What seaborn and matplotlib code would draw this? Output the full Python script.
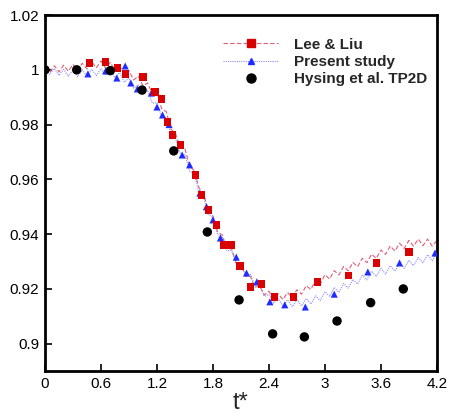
import numpy as np
import pandas as pd
import matplotlib
matplotlib.use("Agg")
import matplotlib.pyplot as plt
from matplotlib.lines import Line2D
import seaborn as sns

# ---- data ----
# Lee & Liu line: oscillating curve, peaks at t = 0.0..4.2 (step 0.1), troughs at t = 0.05..4.15
lee_peak_t = [round(0.1 * i, 2) for i in range(43)]
lee_peak_y = [1.0005, 1.0015, 1.0017, 1.0020, 1.0024, 1.0030, 1.0032, 1.0027, 1.0015, 0.9997,
              0.9977, 0.9952, 0.9917, 0.9847, 0.9767, 0.9712, 0.9632, 0.9547, 0.9467, 0.9397,
              0.9347, 0.9292, 0.9247, 0.9212, 0.9192, 0.9182, 0.9187, 0.9197, 0.9212, 0.9232,
              0.9252, 0.9267, 0.9282, 0.9297, 0.9312, 0.9327, 0.9342, 0.9357, 0.9367, 0.9377,
              0.9382, 0.9382, 0.9377]
lee_trough_t = [round(0.05 + 0.1 * i, 2) for i in range(42)]
lee_trough_y = [0.9990, 0.9992, 0.9995, 0.9998, 1.0003, 1.0007, 1.0006, 0.9997, 0.9982, 0.9963,
                0.9941, 0.9911, 0.9858, 0.9783, 0.9716, 0.9648, 0.9570, 0.9488, 0.9408, 0.9346,
                0.9293, 0.9246, 0.9206, 0.9178, 0.9163, 0.9161, 0.9168, 0.9181, 0.9198, 0.9218,
                0.9236, 0.9251, 0.9266, 0.9281, 0.9296, 0.9311, 0.9326, 0.9338, 0.9348, 0.9356,
                0.9358, 0.9356]
lee_mark_t = [0.48, 0.65, 0.78, 0.86, 1.05, 1.18, 1.25, 1.31, 1.37, 1.45, 1.61, 1.68, 1.75,
              1.84, 1.92, 2.00, 2.09, 2.20, 2.32, 2.46, 2.66, 2.92, 3.25, 3.55, 3.90]
lee_mark_y = [1.0025, 1.0028, 1.0006, 0.9985, 0.9974, 0.9919, 0.9893, 0.9810, 0.9762, 0.9725,
              0.9616, 0.9543, 0.9488, 0.9434, 0.9360, 0.9360, 0.9284, 0.9207, 0.9218, 0.9170,
              0.9170, 0.9225, 0.9250, 0.9295, 0.9335]

# Present study line
pre_peak_t = [round(0.1 * i, 2) for i in range(43)]
pre_peak_y = [1.0005, 1.0005, 1.0002, 1.0000, 1.0000, 1.0002, 1.0005, 1.0002, 0.9990, 0.9970,
              0.9945, 0.9925, 0.9880, 0.9825, 0.9750, 0.9690, 0.9620, 0.9535, 0.9460, 0.9390,
              0.9340, 0.9295, 0.9255, 0.9215, 0.9180, 0.9165, 0.9160, 0.9160, 0.9165, 0.9175,
              0.9190, 0.9205, 0.9220, 0.9235, 0.9250, 0.9265, 0.9275, 0.9285, 0.9295, 0.9305,
              0.9315, 0.9325, 0.9330]
pre_trough_t = [round(0.05 + 0.1 * i, 2) for i in range(42)]
pre_trough_y = [0.9983, 0.9979, 0.9976, 0.9975, 0.9976, 0.9979, 0.9979, 0.9971, 0.9955, 0.9933,
                0.9910, 0.9878, 0.9828, 0.9763, 0.9695, 0.9630, 0.9553, 0.9473, 0.9400, 0.9340,
                0.9293, 0.9250, 0.9210, 0.9173, 0.9148, 0.9138, 0.9135, 0.9138, 0.9145, 0.9158,
                0.9173, 0.9188, 0.9203, 0.9218, 0.9233, 0.9245, 0.9255, 0.9265, 0.9275, 0.9285,
                0.9295, 0.9303]
pre_mark_t = [0.46, 0.65, 0.77, 0.86, 0.92, 0.99, 1.14, 1.20, 1.26, 1.33, 1.47, 1.55, 1.66,
              1.73, 1.80, 1.88, 2.05, 2.16, 2.27, 2.41, 2.57, 2.79, 3.10, 3.46, 3.80, 4.18]
pre_mark_y = [0.9985, 0.9996, 0.9970, 1.0014, 0.9952, 0.9930, 0.9915, 0.9864, 0.9835, 0.9800,
              0.9689, 0.9653, 0.9550, 0.9500, 0.9452, 0.9386, 0.9316, 0.9258, 0.9226, 0.9153,
              0.9142, 0.9134, 0.9181, 0.9262, 0.9295, 0.9331]

# Hysing et al. TP2D
hys_t = [0.0, 0.34, 0.70, 1.04, 1.38, 1.74, 2.08, 2.44, 2.78, 3.13, 3.49, 3.84]
hys_y = [1.0000, 1.0000, 0.9997, 0.9926, 0.9704, 0.9408, 0.9160, 0.9036, 0.9025, 0.9083,
         0.9150, 0.9200]

xticks = [0, 0.6, 1.2, 1.8, 2.4, 3.0, 3.6, 4.2]
xtick_labels = ["0", "0.6", "1.2", "1.8", "2.4", "3", "3.6", "4.2"]
yticks = [0.90, 0.92, 0.94, 0.96, 0.98, 1.00, 1.02]
ytick_labels = ["0.9", "0.92", "0.94", "0.96", "0.98", "1", "1.02"]

labels = ["Lee & Liu", "Present study", "Hysing et al. TP2D"]

# ---- build tables ----
lee_line = pd.DataFrame({"t": lee_peak_t + lee_trough_t,
                         "y": lee_peak_y + lee_trough_y}).sort_values("t")
pre_line = pd.DataFrame({"t": pre_peak_t + pre_trough_t,
                         "y": pre_peak_y + pre_trough_y}).sort_values("t")
lee_mk = pd.DataFrame({"t": lee_mark_t, "y": lee_mark_y})
pre_mk = pd.DataFrame({"t": pre_mark_t, "y": pre_mark_y})
hys = pd.DataFrame({"t": hys_t, "y": hys_y})

sns.set_theme(style="ticks")
plt.rcParams["font.family"] = ["Liberation Sans", "DejaVu Sans"]

red_line = "#e0607a"
red_mk = "#d80000"
blue_line = "#8c8cff"
blue_mk = "#1f2cff"

fig = plt.figure(figsize=(4.49, 4.17), dpi=100)
ax = fig.add_axes([0.1002, 0.110, 0.8728, 0.854])

sns.lineplot(data=pre_line, x="t", y="y", ax=ax, sort=False, estimator=None,
             color=blue_line, linestyle=(0, (1, 1)), linewidth=0.8)
sns.lineplot(data=lee_line, x="t", y="y", ax=ax, sort=False, estimator=None,
             color=red_line, linestyle=(0, (4, 2)), linewidth=0.8)
sns.scatterplot(data=pre_mk, x="t", y="y", ax=ax, marker="^", s=26, color=blue_mk,
                edgecolor="none", zorder=3)
sns.scatterplot(data=lee_mk, x="t", y="y", ax=ax, marker="s", s=28, color=red_mk,
                edgecolor="none", zorder=3)
sns.scatterplot(data=hys, x="t", y="y", ax=ax, marker="o", s=46, color="black",
                edgecolor="none", zorder=4)

ax.set_xlim(0, 4.2)
ax.set_ylim(0.89, 1.02)
ax.set_xticks(xticks)
ax.set_xticklabels(xtick_labels)
ax.set_yticks(yticks)
ax.set_yticklabels(ytick_labels)
ax.tick_params(direction="in", length=5, width=1.2, labelsize=11, colors="black", pad=4)
ax.set_xlabel("t*", fontsize=17, labelpad=1)
ax.set_ylabel("")
for sp in ax.spines.values():
    sp.set_visible(True)
    sp.set_linewidth(2.0)
    sp.set_color("black")

handles = [
    Line2D([], [], color=red_line, linestyle=(0, (4, 2)), linewidth=0.8,
           marker="s", markersize=5.5, markerfacecolor=red_mk, markeredgecolor=red_mk),
    Line2D([], [], color=blue_line, linestyle=(0, (1, 1)), linewidth=0.8,
           marker="^", markersize=5, markerfacecolor=blue_mk, markeredgecolor=blue_mk),
    Line2D([], [], color="black", linestyle="none",
           marker="o", markersize=6.5, markerfacecolor="black", markeredgecolor="black"),
]
ax.legend(handles, labels, loc="upper left", bbox_to_anchor=(0.42, 0.975),
          frameon=False, handlelength=3.6, handletextpad=1.0, labelspacing=0.22,
          prop={"size": 11, "weight": "bold"})

fig.savefig("out.png", dpi=100)
